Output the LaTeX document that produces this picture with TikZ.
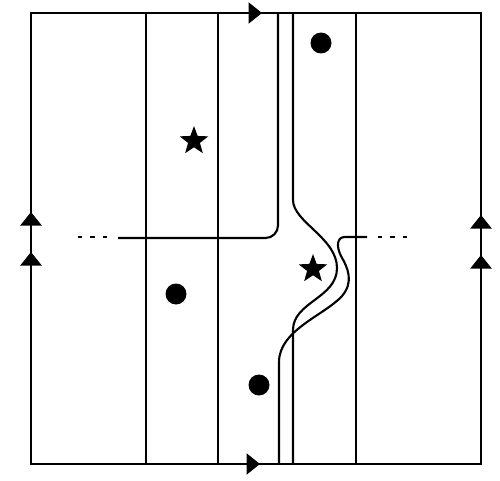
\documentclass[tikz,border=0pt]{standalone}
\usetikzlibrary{arrows.meta,shapes.geometric}
\tikzset{
  arr/.style={-{Triangle[width=0.42cm,length=0.27cm]}},
  dot/.style={circle,fill=black,inner sep=0pt,minimum size=0.42cm},
  pstar/.style={star,star points=5,star point ratio=2.4,fill=black,inner sep=0pt,minimum size=0.6cm}
}
\begin{document}
\begin{tikzpicture}[x=0.02cm,y=-0.02cm,line width=1.2pt]
\useasboundingbox (0,0) rectangle (500,480);
% square
\draw (31,13) rectangle (481,464);
\draw[arr] (200,13)--(262,13);
\draw[arr] (200,464)--(260,464);
\draw[arr] (31,300)--(31,212);
\draw[arr] (31,300)--(31,252);
\draw[arr] (481,300)--(481,215);
\draw[arr] (481,300)--(481,255);

% straight strands
\draw (146,13)--(146,464);
\draw (218,13)--(218,464);
\draw (356,13)--(356,464);

% left strand turning into the cut
\draw[rounded corners=0.25cm] (278,13)--(278,238)--(118,238);
\draw[dash pattern=on 2.3pt off 4.8pt] (78,237)--(112,237);

% bulging strand
\draw (293,13)--(293,200) .. controls (293,222) and (337,238) .. (337,268)
  .. controls (337,298) and (293,302) .. (293,330)--(293,464);

% strand coming out of the cut on the right
\draw (367,237)--(345,237) .. controls (337,237) and (336,246) .. (341,256)
  .. controls (348,268) and (354,282) .. (342,296)
  .. controls (325,315) and (279,330) .. (279,362)--(279,464);
\draw[dash pattern=on 2.3pt off 4.8pt] (378,237)--(410,237);

% points
\node (d1) at (321,43) [dot]{};
\node (d2) at (176,294) [dot]{};
\node (d3) at (259,385) [dot]{};
\node (s1) at (194,141) [pstar]{};
\node (s2) at (313,269) [pstar]{};
\end{tikzpicture}
\end{document}
